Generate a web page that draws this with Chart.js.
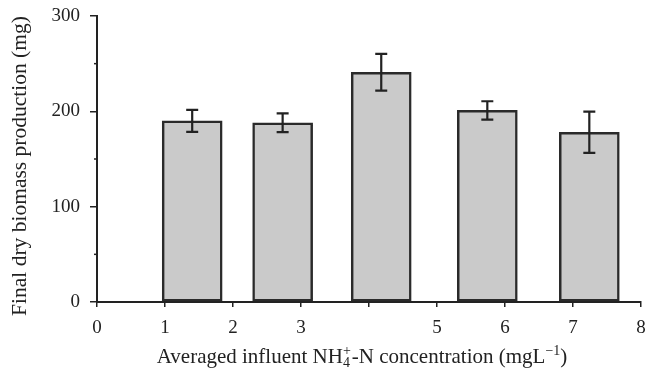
<!DOCTYPE html>
<html>
<head>
<meta charset="utf-8">
<script src="https://cdn.jsdelivr.net/npm/chart.js@4.4.1/dist/chart.umd.min.js"></script>
<style>
  html, body { margin: 0; padding: 0; background: #fff; }
  canvas { display: block; }
</style>
</head>
<body>
<canvas id="chart" width="646" height="372"></canvas>
<script>
// values
var concentrations = [1.40, 2.73, 4.18, 5.74, 7.24];
var biomass = [190, 188, 241, 201, 178];
var errors = [11.5, 9.8, 19.2, 9.6, 21.6];
var yMinorTicks = [50, 150, 250];
var hiddenXTicks = [4];

var ink = "#222";
var serif = "'Liberation Serif', 'Times New Roman', serif";

// error bars drawn through the scales
const errorBars = {
    id: "errorBars",
    afterDatasetsDraw(chart) {
        const ctx = chart.ctx;
        const xs = chart.scales.x;
        const ys = chart.scales.y;
        ctx.save();
        ctx.strokeStyle = ink;
        ctx.lineWidth = 2.2;
        for (let i = 0; i < biomass.length; i++) {
            const x = xs.getPixelForValue(concentrations[i]);
            const top = ys.getPixelForValue(biomass[i] + errors[i]);
            const bottom = ys.getPixelForValue(biomass[i] - errors[i]);
            ctx.beginPath();
            ctx.moveTo(x, top);
            ctx.lineTo(x, bottom);
            ctx.moveTo(x - 6, top);
            ctx.lineTo(x + 6, top);
            ctx.moveTo(x - 6, bottom);
            ctx.lineTo(x + 6, bottom);
            ctx.stroke();
        }
        ctx.restore();
    }
};

// small minor ticks on the y axis + the two axis titles
const decorations = {
    id: "decorations",
    afterDraw(chart) {
        const ctx = chart.ctx;
        const ys = chart.scales.y;
        const left = chart.chartArea.left;
        ctx.save();
        ctx.strokeStyle = ink;
        ctx.lineWidth = 1.5;
        yMinorTicks.forEach(v => {
            const y = ys.getPixelForValue(v);
            ctx.beginPath();
            ctx.moveTo(left - 3, y);
            ctx.lineTo(left, y);
            ctx.stroke();
        });

        ctx.fillStyle = ink;
        // y title
        ctx.save();
        ctx.font = "21.5px " + serif;
        ctx.textAlign = "center";
        ctx.textBaseline = "alphabetic";
        ctx.translate(25.5, 166);
        ctx.rotate(-Math.PI / 2);
        ctx.fillText("Final dry biomass production (mg)", 0, 0);
        ctx.restore();

        // x title with sub/superscripts
        const big = "21px " + serif;
        const small = "14px " + serif;
        const parts = [
            { text: "Averaged influent NH", font: big, dy: 0 },
            { stack: ["+", "4"] },
            { text: "-N concentration (mgL", font: big, dy: 0 },
            { text: "\u22121", font: small, dy: -8 },
            { text: ")", font: big, dy: 0 }
        ];
        let total = 0;
        parts.forEach(p => {
            if (p.stack) {
                ctx.font = small;
                p.w = Math.max(ctx.measureText(p.stack[0]).width, ctx.measureText(p.stack[1]).width) + 1;
            } else {
                ctx.font = p.font;
                p.w = ctx.measureText(p.text).width;
            }
            total += p.w;
        });
        let x = 362 - total / 2;
        const base = 363;
        ctx.textAlign = "left";
        parts.forEach(p => {
            if (p.stack) {
                ctx.font = small;
                ctx.fillText(p.stack[0], x, base - 8);
                ctx.fillText(p.stack[1], x, base + 4);
            } else {
                ctx.font = p.font;
                ctx.fillText(p.text, x, base + p.dy);
            }
            x += p.w;
        });
        ctx.restore();
    }
};

new Chart(document.getElementById("chart"), {
    type: "bar",
    data: {
        datasets: [{
            data: concentrations.map((c, i) => ({ x: c, y: biomass[i] })),
            backgroundColor: "#cacaca",
            borderColor: "#2a2a2a",
            borderWidth: 2.5,
            borderSkipped: false,
            barThickness: 60
        }]
    },
    options: {
        responsive: false,
        devicePixelRatio: 1,
        animation: false,
        layout: { padding: { top: 16, right: 5, left: 0, bottom: 0 } },
        plugins: {
            legend: { display: false },
            tooltip: { enabled: false }
        },
        scales: {
            x: {
                type: "linear",
                min: 0,
                max: 8,
                offset: false,
                border: { color: ink, width: 2 },
                grid: { offset: false, drawOnChartArea: false, drawTicks: true, tickLength: 5, color: ink, lineWidth: 1.5 },
                ticks: {
                    stepSize: 1,
                    color: ink,
                    padding: 10,
                    maxRotation: 0,
                    font: { family: serif, size: 19 },
                    callback: function(value) {
                        return hiddenXTicks.includes(value) ? "" : value;
                    }
                },
                afterFit: function(scale) {
                    scale.height = 70;
                    scale.paddingLeft = 0;
                    scale.paddingRight = 0;
                }
            },
            y: {
                min: 0,
                max: 300,
                border: { color: ink, width: 2 },
                grid: { drawOnChartArea: false, drawTicks: true, tickLength: 7, color: ink, lineWidth: 1.5 },
                ticks: {
                    stepSize: 100,
                    color: ink,
                    padding: 10,
                    font: { family: serif, size: 19 }
                },
                afterFit: function(scale) {
                    scale.width = 97;
                    scale.paddingTop = 0;
                    scale.paddingBottom = 0;
                }
            }
        }
    },
    plugins: [errorBars, decorations]
});
</script>
</body>
</html>
